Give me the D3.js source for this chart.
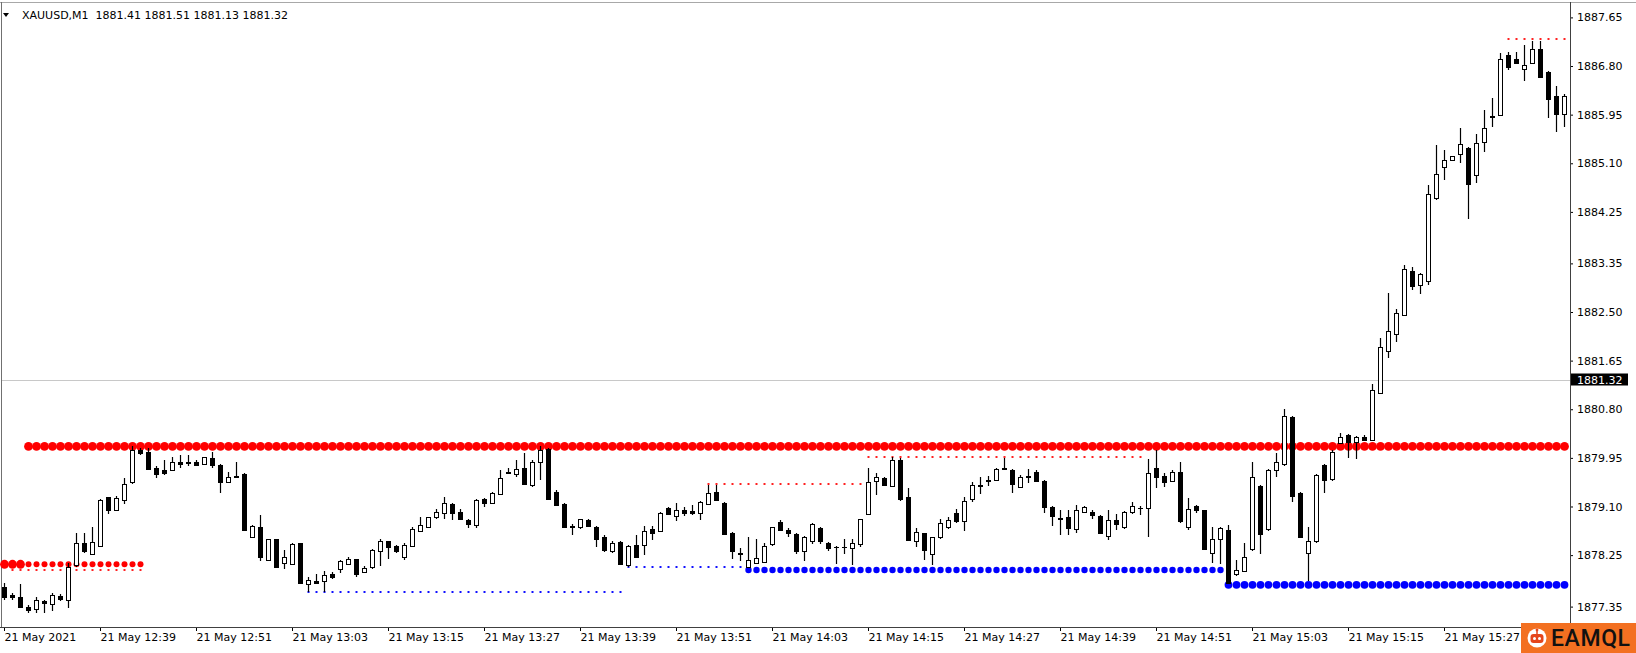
<!DOCTYPE html>
<html><head><meta charset="utf-8">
<script src="https://cdn.jsdelivr.net/npm/d3@7"></script>
<style>
html,body{margin:0;padding:0;background:#fff;overflow:hidden}
svg{display:block}
</style></head><body>
<svg id="chart" width="1636" height="653"></svg>
<script>
// ---------- DATA ----------
const symbolTitle = "XAUUSD,M1";
const titleQuote = ["1881.41", "1881.51", "1881.13", "1881.32"];
const lastPrice = 1881.32;

const opens = [
1877.70,1877.55,1877.52,1877.34,1877.30,1877.45,1877.39,1877.54,1877.47,1878.08,
1878.46,1878.27,1878.41,1879.26,1879.03,1879.21,1879.52,1880.08,1880.06,1879.77,
1879.74,1879.74,1879.88,1879.87,1879.88,1879.85,1879.94,1879.83,1879.53,1879.62,
1879.67,1878.57,1878.74,1878.16,1878.53,1878.11,1878.09,1878.46,1877.75,1877.79,
1877.80,1877.92,1878.00,1878.09,1878.18,1877.95,1878.05,1878.33,1878.49,1878.41,
1878.21,1878.41,1878.68,1878.75,1878.91,1878.99,1879.14,1879.00,1878.86,1878.78,
1879.23,1879.16,1879.32,1879.71,1879.67,1879.78,1879.48,1879.87,1880.10,1879.36,
1879.14,1878.76,1878.74,1878.86,1878.75,1878.57,1878.33,1878.48,1878.08,1878.43,
1878.42,1878.71,1878.68,1879.07,1878.93,1879.03,1879.02,1878.99,1879.14,1879.35,
1879.16,1878.64,1878.29,1878.05,1878.12,1878.13,1878.44,1878.83,1878.69,1878.62,
1878.33,1878.50,1878.72,1878.47,1878.40,1878.40,1878.37,1878.44,1878.97,1879.55,
1879.59,1879.46,1879.92,1879.27,1878.50,1878.63,1878.27,1878.56,1878.74,1878.99,
1878.85,1879.23,1879.47,1879.55,1879.56,1879.77,1879.74,1879.44,1879.64,1879.71,
1879.55,1879.09,1878.90,1878.91,1878.70,1879.01,1879.01,1878.93,1878.58,1878.86,
1878.74,1879.01,1879.08,1879.07,1879.77,1879.63,1879.54,1879.70,1878.74,1879.10,
1879.03,1878.28,1878.54,1878.69,1877.92,1877.98,1878.35,1879.46,1878.70,1879.73,
1879.84,1880.67,1879.34,1878.28,1878.49,1879.83,1879.58,1880.21,1880.35,1880.22,
1880.32,1880.26,1881.08,1881.81,1882.12,1882.45,1883.21,1882.97,1883.05,1884.49,
1885.03,1885.16,1885.26,1885.36,1884.90,1885.48,1885.91,1885.94,1886.99,1886.92,
1886.74,1886.85,1887.09,1886.70,1886.28,1885.96];

const highs = [
1877.76,1877.58,1877.74,1877.38,1877.51,1877.47,1877.58,1877.57,1878.12,1878.63,
1878.63,1878.75,1879.23,1879.27,1879.28,1879.59,1880.15,1880.12,1880.12,1879.80,
1879.92,1879.96,1880.00,1880.00,1879.92,1879.97,1880.06,1879.85,1879.71,1879.88,
1879.68,1878.78,1878.95,1878.54,1878.54,1878.34,1878.46,1878.47,1877.87,1877.92,
1877.98,1877.96,1878.16,1878.22,1878.19,1878.06,1878.36,1878.53,1878.50,1878.42,
1878.47,1878.75,1878.91,1878.92,1879.06,1879.26,1879.16,1879.05,1878.89,1879.23,
1879.24,1879.35,1879.74,1879.78,1879.92,1880.04,1879.92,1880.15,1880.12,1879.38,
1879.16,1878.79,1878.89,1878.88,1878.76,1878.60,1878.50,1878.49,1878.42,1878.60,
1878.76,1878.76,1879.01,1879.09,1879.16,1879.09,1879.13,1879.19,1879.47,1879.48,
1879.17,1878.65,1878.37,1878.57,1878.54,1878.46,1878.75,1878.86,1878.72,1878.63,
1878.58,1878.81,1878.74,1878.48,1878.41,1878.54,1878.54,1878.89,1879.77,1879.69,
1879.61,1879.96,1879.94,1879.42,1878.72,1878.64,1878.57,1878.89,1878.91,1879.05,
1879.26,1879.53,1879.62,1879.63,1879.78,1879.94,1879.75,1879.65,1879.75,1879.74,
1879.56,1879.11,1879.03,1879.04,1879.13,1879.11,1879.03,1878.95,1879.03,1878.97,
1879.02,1879.18,1879.11,1879.93,1880.08,1879.68,1879.73,1879.88,1879.24,1879.13,
1879.04,1878.74,1878.75,1878.77,1878.17,1878.47,1879.88,1879.47,1879.75,1880.04,
1880.80,1880.68,1879.35,1878.75,1879.67,1879.84,1880.08,1880.39,1880.37,1880.33,
1880.35,1881.25,1882.04,1882.83,1882.56,1883.32,1883.29,1883.18,1884.72,1885.42,
1885.33,1885.23,1885.71,1885.38,1885.62,1886.03,1886.24,1887.02,1887.05,1887.05,
1887.17,1887.23,1887.24,1886.71,1886.45,1886.31];

const lows = [
1877.47,1877.47,1877.32,1877.24,1877.24,1877.24,1877.28,1877.44,1877.32,1878.05,
1878.29,1878.26,1878.40,1878.97,1879.02,1879.14,1879.49,1880.00,1879.74,1879.59,
1879.65,1879.73,1879.78,1879.80,1879.81,1879.84,1879.77,1879.34,1879.52,1879.61,
1878.68,1878.56,1878.14,1878.15,1878.05,1878.00,1878.09,1877.75,1877.61,1877.75,
1877.61,1877.83,1877.93,1878.08,1877.86,1877.94,1878.00,1878.06,1878.19,1878.29,
1878.16,1878.40,1878.65,1878.74,1878.88,1878.88,1878.86,1878.86,1878.72,1878.72,
1879.09,1879.14,1879.31,1879.68,1879.62,1879.48,1879.44,1879.56,1879.21,1879.11,
1878.72,1878.60,1878.71,1878.74,1878.40,1878.31,1878.28,1878.07,1878.04,1878.21,
1878.25,1878.51,1878.66,1878.96,1878.84,1878.93,1878.95,1878.86,1879.13,1879.19,
1878.60,1878.19,1878.14,1878.04,1878.09,1878.11,1878.41,1878.68,1878.57,1878.27,
1878.14,1878.44,1878.44,1878.33,1878.09,1878.27,1878.08,1878.40,1878.95,1879.30,
1879.46,1879.45,1879.20,1878.50,1878.39,1878.16,1878.08,1878.54,1878.71,1878.82,
1878.68,1879.18,1879.32,1879.46,1879.55,1879.73,1879.33,1879.42,1879.51,1879.53,
1878.99,1878.76,1878.60,1878.60,1878.64,1878.99,1878.89,1878.63,1878.52,1878.69,
1878.70,1878.97,1878.95,1878.56,1879.42,1879.44,1879.52,1878.81,1878.69,1878.98,
1878.34,1878.12,1878.10,1877.75,1877.89,1877.96,1878.33,1878.27,1878.68,1879.62,
1879.81,1879.17,1878.55,1877.79,1878.47,1879.33,1879.55,1880.19,1879.94,1879.93,
1880.25,1880.25,1881.07,1881.69,1881.98,1882.43,1882.89,1882.82,1882.97,1884.46,
1884.81,1885.15,1885.11,1884.13,1884.76,1885.30,1885.73,1885.94,1886.73,1886.86,
1886.53,1886.84,1886.60,1885.89,1885.65,1885.74];

const closes = [
1877.52,1877.51,1877.34,1877.29,1877.47,1877.41,1877.56,1877.48,1878.04,1878.46,
1878.32,1878.48,1879.21,1879.03,1879.24,1879.49,1880.09,1880.03,1879.75,1879.66,
1879.69,1879.87,1879.85,1879.86,1879.83,1879.96,1879.83,1879.52,1879.61,1879.63,
1878.69,1878.76,1878.21,1878.53,1878.05,1878.22,1878.44,1877.76,1877.82,1877.77,
1877.90,1877.86,1878.14,1878.19,1877.92,1878.02,1878.34,1878.49,1878.40,1878.32,
1878.43,1878.71,1878.77,1878.91,1879.00,1879.16,1878.98,1878.88,1878.79,1879.21,
1879.16,1879.34,1879.59,1879.68,1879.76,1879.49,1879.88,1880.09,1879.23,1879.13,
1878.74,1878.74,1878.88,1878.76,1878.54,1878.34,1878.47,1878.09,1878.41,1878.22,
1878.68,1878.64,1878.98,1878.97,1879.03,1878.99,1878.98,1879.17,1879.34,1879.21,
1878.62,1878.33,1878.27,1878.16,1878.20,1878.41,1878.74,1878.69,1878.63,1878.33,
1878.57,1878.79,1878.50,1878.37,1878.39,1878.40,1878.47,1878.88,1879.53,1879.61,
1879.48,1879.92,1879.23,1878.51,1878.66,1878.34,1878.56,1878.81,1878.86,1878.84,
1879.20,1879.47,1879.45,1879.56,1879.75,1879.76,1879.49,1879.62,1879.62,1879.55,
1879.09,1878.93,1878.88,1878.72,1879.03,1879.09,1878.95,1878.64,1878.86,1878.79,
1879.00,1879.10,1879.07,1879.68,1879.62,1879.52,1879.70,1878.84,1879.06,1879.03,
1878.35,1878.53,1878.72,1877.76,1877.99,1878.21,1879.61,1878.62,1879.73,1879.88,
1880.68,1879.28,1878.56,1878.49,1879.65,1879.56,1880.06,1880.31,1880.23,1880.31,
1880.27,1881.14,1881.88,1882.16,1882.49,1883.25,1882.96,1883.16,1884.56,1884.91,
1885.16,1885.22,1885.44,1884.74,1885.46,1885.71,1885.92,1886.92,1886.79,1886.86,
1886.82,1887.09,1886.61,1886.22,1885.96,1886.27];

const yTickValues = [1887.65, 1886.80, 1885.95, 1885.10, 1884.25, 1883.35, 1882.50,
                     1881.65, 1880.80, 1879.95, 1879.10, 1878.25, 1877.35];
const xTickBars = [0, 12, 24, 36, 48, 60, 72, 84, 96, 108, 120, 132, 144, 156, 168, 180];
const xTickLabels = ["21 May 2021", "21 May 12:39", "21 May 12:51", "21 May 13:03",
  "21 May 13:15", "21 May 13:27", "21 May 13:39", "21 May 13:51", "21 May 14:03",
  "21 May 14:15", "21 May 14:27", "21 May 14:39", "21 May 14:51", "21 May 15:03",
  "21 May 15:15", "21 May 15:27"];

// indicator levels (dot rows): kind, price, first bar, last bar
const levelKinds  = ["redBig", "redBig", "redMid", "redTiny", "redTiny", "redTiny", "redTiny",
                     "blueTiny", "blueTiny", "blueMid", "blueBig"];
const levelPrices = [1880.15, 1878.09, 1878.09, 1877.99, 1879.49, 1879.96, 1887.28,
                     1877.61, 1878.04, 1877.99, 1877.73];
const levelStart  = [3, 0, 3, 1, 88, 108, 188, 38, 78, 93, 153];
const levelEnd    = [195, 2, 17, 17, 107, 142, 195, 77, 92, 152, 195];

// ---------- LAYOUT / STYLE ----------
const W = 1636, H = 653;
const plotRight = 1570, plotTop = 2, plotBottom = 627;
const FONT = "'DejaVu Sans', Verdana, sans-serif";
const levelStyle = {
  redBig:  {color: "#ff0000", r: 4.4, tiny: false},
  redMid:  {color: "#ff0000", r: 3.0, tiny: false},
  redTiny: {color: "#ff2020", r: 1,   tiny: true},
  blueBig: {color: "#0000ff", r: 3.9, tiny: false},
  blueMid: {color: "#0000ff", r: 3.2, tiny: false},
  blueTiny:{color: "#1010ff", r: 1,   tiny: true}
};

const svg = d3.select("#chart");
svg.append("rect").attr("width", W).attr("height", H).attr("fill", "#fff");

const x = d3.scaleLinear().domain([0, opens.length - 1]).range([4, 4 + 8 * (opens.length - 1)]);
const y = d3.scaleLinear().domain([1877.35, 1887.65]).range([606.6, 17.4]);

// frame
svg.append("line").attr("x1", 0).attr("x2", W).attr("y1", plotTop + 0.5).attr("y2", plotTop + 0.5)
  .attr("stroke", "#a8a8a8");
svg.append("line").attr("x1", 1.5).attr("x2", 1.5).attr("y1", plotTop).attr("y2", plotBottom)
  .attr("stroke", "#707070");

// current price line
svg.append("line").attr("x1", 2).attr("x2", plotRight)
  .attr("y1", Math.round(y(lastPrice)) + 0.5).attr("y2", Math.round(y(lastPrice)) + 0.5)
  .attr("stroke", "#c8c8c8").attr("stroke-width", 1.2);

// indicator dots
const dots = [];
levelKinds.forEach((k, j) => {
  for (let i = levelStart[j]; i <= levelEnd[j]; i++) dots.push({k, i, p: levelPrices[j]});
});
const gDots = svg.append("g");
gDots.selectAll("circle").data(dots.filter(d => !levelStyle[d.k].tiny)).join("circle")
  .attr("cx", d => x(d.i) + 0.5).attr("cy", d => y(d.p))
  .attr("r", d => levelStyle[d.k].r).attr("fill", d => levelStyle[d.k].color);
gDots.selectAll("rect").data(dots.filter(d => levelStyle[d.k].tiny)).join("rect")
  .attr("x", d => x(d.i) - 0.5).attr("y", d => Math.round(y(d.p)) - 1)
  .attr("width", 2).attr("height", 2).attr("fill", d => levelStyle[d.k].color);

// candles
const candles = opens.map((o, i) => ({i, o, h: highs[i], l: lows[i], c: closes[i]}));
const gC = svg.append("g");
gC.selectAll("line").data(candles).join("line")
  .attr("x1", d => x(d.i) + 0.5).attr("x2", d => x(d.i) + 0.5)
  .attr("y1", d => Math.round(y(d.h))).attr("y2", d => Math.round(y(d.l)))
  .attr("stroke", "#000").attr("stroke-width", 1.2);
gC.selectAll("rect").data(candles).join("rect")
  .attr("x", d => x(d.i) - 1.5)
  .attr("width", 4)
  .attr("y", d => Math.round(y(Math.max(d.o, d.c))) + 0.5)
  .attr("height", d => Math.max(0.01, Math.round(y(Math.min(d.o, d.c))) - Math.round(y(Math.max(d.o, d.c)))))
  .attr("fill", d => d.c >= d.o ? "#fff" : "#000")
  .attr("stroke", "#000").attr("stroke-width", 1);

// right axis
const yAxis = d3.axisRight(y).tickValues(yTickValues).tickSize(3).tickPadding(4)
  .tickFormat(d3.format(".2f"));
const gY = svg.append("g").attr("transform", `translate(${plotRight},0)`).call(yAxis);
gY.select(".domain").remove();
gY.attr("font-family", FONT).attr("font-size", 11);
gY.selectAll("text").attr("fill", "#000");

// bottom axis
const xAxis = d3.axisBottom(x).tickValues(xTickBars).tickSize(4).tickPadding(2)
  .tickFormat((d, i) => xTickLabels[i]);
const gX = svg.append("g").attr("transform", `translate(0,${plotBottom})`).call(xAxis);
gX.select(".domain").remove();
gX.attr("font-family", FONT).attr("font-size", 11);
gX.selectAll("text").attr("text-anchor", "start").attr("x", 0).attr("fill", "#000");

// axis lines
svg.append("line").attr("x1", plotRight + 0.5).attr("x2", plotRight + 0.5)
  .attr("y1", plotTop).attr("y2", plotBottom + 1).attr("stroke", "#404040");
svg.append("line").attr("x1", 0).attr("x2", plotRight + 1)
  .attr("y1", plotBottom + 0.5).attr("y2", plotBottom + 0.5).attr("stroke", "#404040");

// last price tag
const py = y(lastPrice);
svg.append("rect").attr("x", plotRight + 1).attr("y", py - 6).attr("width", 57).attr("height", 12)
  .attr("fill", "#000");
svg.append("text").attr("x", plotRight + 7).attr("y", py + 4)
  .attr("font-family", FONT).attr("font-size", 11).attr("fill", "#fff")
  .text(d3.format(".2f")(lastPrice));

// title
svg.append("path").attr("d", "M3,13 L9,13 L6,17 Z").attr("fill", "#000");
svg.append("text").attr("x", 22).attr("y", 19)
  .attr("font-family", FONT).attr("font-size", 11).attr("fill", "#000")
  .style("white-space", "pre")
  .text(symbolTitle + "  " + titleQuote.join(" "));

// EAMQL badge
const logo = svg.append("g");
logo.append("rect").attr("x", 1521).attr("y", 623).attr("width", 115).attr("height", 30).attr("fill", "#f37021");
logo.append("circle").attr("cx", 1537).attr("cy", 638).attr("r", 9.5).attr("fill", "#fff");
logo.append("line").attr("x1", 1537).attr("x2", 1537).attr("y1", 630).attr("y2", 634)
  .attr("stroke", "#e5461c").attr("stroke-width", 1.5);
logo.append("circle").attr("cx", 1537).attr("cy", 630).attr("r", 1.4).attr("fill", "#e5461c");
logo.append("rect").attr("x", 1530.5).attr("y", 634).attr("width", 13).attr("height", 9).attr("rx", 3)
  .attr("fill", "#e5461c");
logo.append("circle").attr("cx", 1534.5).attr("cy", 638.5).attr("r", 1.5).attr("fill", "#fff");
logo.append("circle").attr("cx", 1539.5).attr("cy", 638.5).attr("r", 1.5).attr("fill", "#fff");
logo.append("text").attr("x", 1551).attr("y", 646)
  .attr("font-family", "Roboto, 'Noto Sans', sans-serif").attr("font-size", 23).attr("font-weight", 500)
  .attr("fill", "#111").attr("textLength", 79).text("EAMQL");
</script>
</body></html>
